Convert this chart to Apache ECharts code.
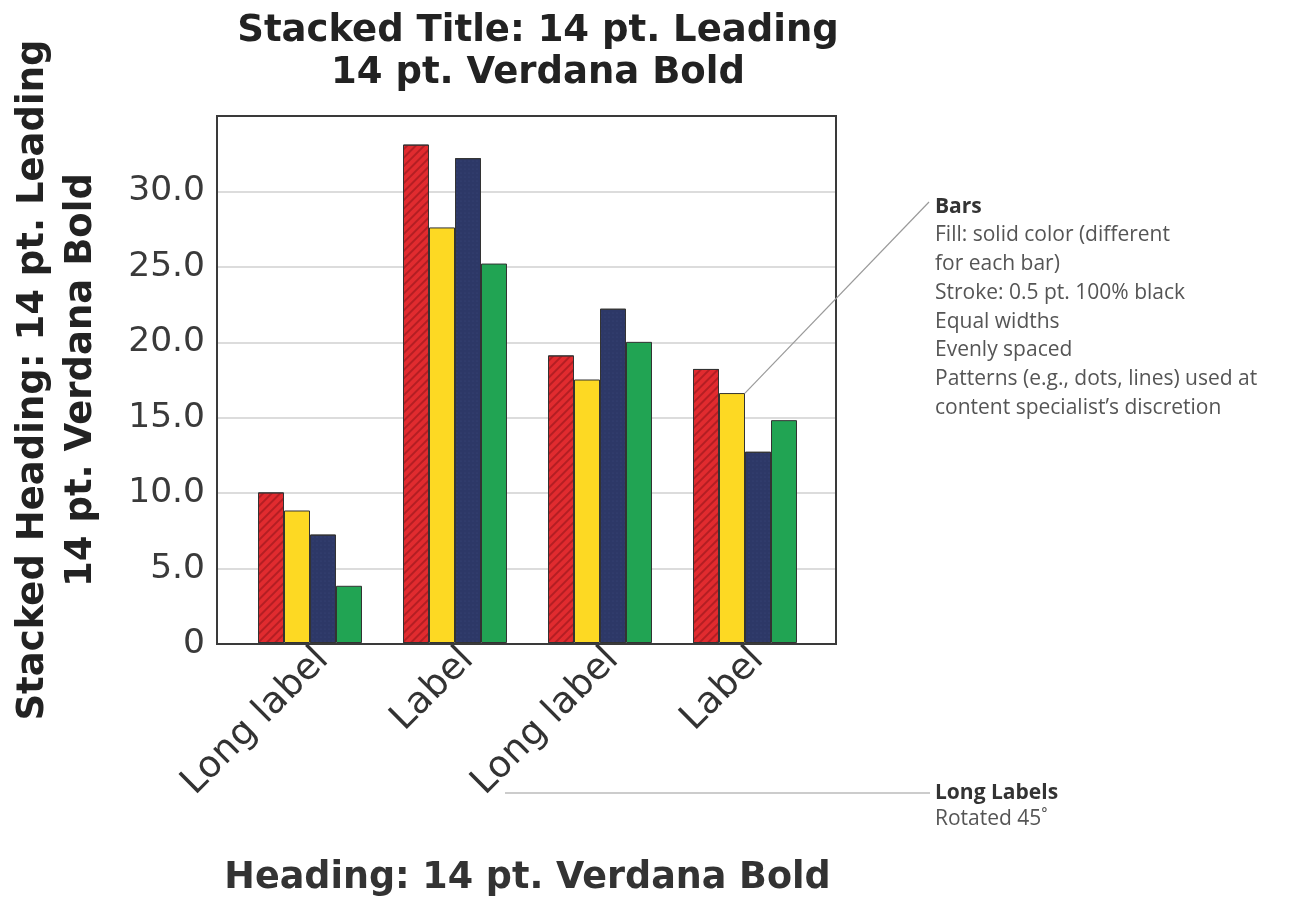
<!DOCTYPE html>
<html>
<head>
<meta charset="utf-8">
<script src="https://cdn.jsdelivr.net/npm/echarts@6/dist/echarts.min.js"></script>
<style>
  html, body { margin: 0; padding: 0; background: #fff; }
  #chart { width: 1294px; height: 902px; }
</style>
</head>
<body>
<div id="chart"></div>
<script>
// Chart data
const categories = ['Long label', 'Label', 'Long label', 'Label'];
const redValues    = [10.0, 33.1, 19.1, 18.2];
const yellowValues = [8.8, 27.6, 17.5, 16.6];
const navyValues   = [7.2, 32.2, 22.2, 12.7];
const greenValues  = [3.8, 25.2, 20.0, 14.8];
const yTickLabels  = ['0', '5.0', '10.0', '15.0', '20.0', '25.0', '30.0', ''];

const titleLines = ['Stacked Title: 14 pt. Leading', '14 pt. Verdana Bold'];
const yHeadingLines = ['Stacked Heading: 14 pt. Leading', '14 pt. Verdana Bold'];
const xHeading = 'Heading: 14 pt. Verdana Bold';
const barsNoteTitle = 'Bars';
const barsNoteLines = [
  'Fill: solid color (different',
  'for each bar)',
  'Stroke: 0.5 pt. 100% black',
  'Equal widths',
  'Evenly spaced',
  'Patterns (e.g., dots, lines) used at',
  "content specialist\u2019s discretion"
];
const labelsNoteTitle = 'Long Labels';
const labelsNoteLine = 'Rotated 45\u02DA';

const FONT = "'DejaVu Sans', Verdana, sans-serif";
const NOTE_FONT = "'Open Sans', 'Noto Sans', sans-serif";
const Y_MAX = 35;

const chart = echarts.init(document.getElementById('chart'));

function barSeries(name, data, color, decal) {
  const s = {
    name: name,
    type: 'bar',
    xAxisIndex: 1,
    yAxisIndex: 1,
    data: data,
    barWidth: 26,
    barGap: '0%',
    itemStyle: { color: color, borderColor: '#333', borderWidth: 1 },
    emphasis: { disabled: true }
  };
  if (decal) s.itemStyle.decal = decal;
  return s;
}

const option = {
  animation: false,
  title: {
    text: titleLines.join('\n'),
    left: 533,
    top: 5,
    textAlign: 'center',
    textStyle: {
      fontFamily: FONT, fontWeight: 'bold', fontSize: 37,
      lineHeight: 42, color: '#222'
    }
  },
  grid: [
    // frame and gridlines
    { left: 217, top: 116, width: 619, height: 528 },
    // bar area, inset inside the frame
    { left: 237.5, top: 116, width: 580, height: 528 }
  ],
  xAxis: [
    { type: 'value', gridIndex: 0, show: false, min: 0, max: 1 },
    {
      type: 'category', gridIndex: 1, data: categories,
      axisLine: { show: false }, axisTick: { show: false },
      axisLabel: {
        rotate: 45, interval: 0, margin: -2, verticalAlign: 'top',
        fontFamily: FONT, fontSize: 37, color: '#333'
      },
      name: xHeading,
      nameLocation: 'middle',
      nameGap: 217,
      nameTextStyle: {
        fontFamily: FONT, fontWeight: 'bold', fontSize: 36.5, color: '#333'
      }
    }
  ],
  yAxis: [
    {
      type: 'value', gridIndex: 0, min: 0, max: Y_MAX, interval: 5,
      axisLine: { show: false }, axisTick: { show: false },
      splitLine: { lineStyle: { color: '#dcdcdc', width: 2 } },
      axisLabel: {
        margin: 12, fontFamily: FONT, fontSize: 34.5, color: '#3a3a3a',
        formatter: v => yTickLabels[Math.round(v / 5)]
      },
      name: yHeadingLines.join('\n'),
      nameLocation: 'middle',
      nameRotate: 90,
      nameGap: 112,
      nameTextStyle: {
        fontFamily: FONT, fontWeight: 'bold', fontSize: 37,
        lineHeight: 48, color: '#222'
      }
    },
    { type: 'value', gridIndex: 1, min: 0, max: Y_MAX, interval: 5, show: false,
      splitLine: { show: false } }
  ],
  series: [
    barSeries('Red', redValues, '#e12b2f', {
      symbol: 'rect', symbolSize: 1,
      dashArrayX: [[1, 0]], dashArrayY: [2, 4],
      rotation: -Math.PI / 4, color: 'rgba(150, 22, 26, 0.6)'
    }),
    barSeries('Yellow', yellowValues, '#fdd923'),
    barSeries('Navy', navyValues, '#2d3867', {
      symbol: 'circle', symbolSize: 0.6,
      dashArrayX: [2, 2], dashArrayY: [2, 2],
      color: 'rgba(95, 108, 160, 0.35)'
    }),
    barSeries('Green', greenValues, '#21a453')
  ]
};

chart.setOption(option);

// Plot frame, drawn above the gridlines
const frameTL = chart.convertToPixel({ gridIndex: 0 }, [0, Y_MAX]);
const frameBR = chart.convertToPixel({ gridIndex: 0 }, [1, 0]);

// The "Bars" leader starts at the top right corner of the last yellow bar
const lastIdx = categories.length - 1;
const barTop = chart.convertToPixel({ seriesIndex: 1 }, [lastIdx, yellowValues[lastIdx]]);

const noteX = 935;
const noteTop = 211;
const noteStep = 28.7;
const noteSize = 21;
const elements = [
  { type: 'rect', silent: true, z: 50,
    shape: { x: frameTL[0], y: frameTL[1], width: frameBR[0] - frameTL[0], height: frameBR[1] - frameTL[1] },
    style: { fill: 'none', stroke: '#3a3a3a', lineWidth: 2 } },
  { type: 'line', silent: true, z: 60,
    shape: { x1: barTop[0], y1: barTop[1], x2: 929, y2: 202 },
    style: { stroke: '#9a9a9a', lineWidth: 1.2 } },
  { type: 'text', left: noteX, top: noteTop - noteSize * 0.7,
    style: { text: barsNoteTitle, font: 'bold ' + noteSize + 'px ' + NOTE_FONT, fill: '#333' } }
];
barsNoteLines.forEach((t, i) => {
  elements.push({
    type: 'text', left: noteX, top: noteTop - noteSize * 0.7 + noteStep * (i + 1),
    style: { text: t, font: noteSize + 'px ' + NOTE_FONT, fill: '#555' }
  });
});
elements.push(
  { type: 'line', silent: true,
    shape: { x1: 505, y1: 793, x2: 930, y2: 793 },
    style: { stroke: '#9a9a9a', lineWidth: 1.2 } },
  { type: 'text', left: noteX, top: 797 - noteSize * 0.7,
    style: { text: labelsNoteTitle, font: 'bold ' + noteSize + 'px ' + NOTE_FONT, fill: '#333' } },
  { type: 'text', left: noteX, top: 823 - noteSize * 0.7,
    style: { text: labelsNoteLine, font: noteSize + 'px ' + NOTE_FONT, fill: '#555' } }
);

chart.setOption({ graphic: { elements: elements } });
</script>
</body>
</html>
